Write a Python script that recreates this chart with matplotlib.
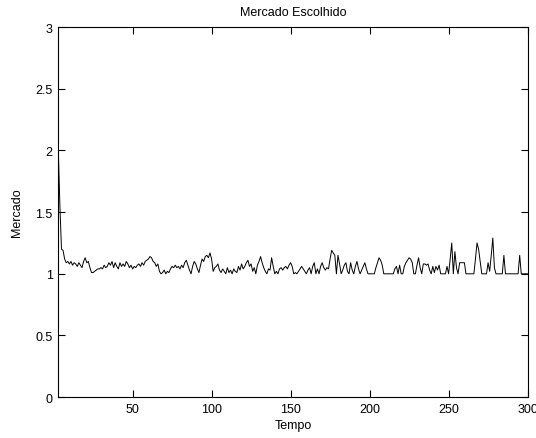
import matplotlib.pyplot as plt
import numpy as np

plt.rcParams['font.family'] = ['Liberation Sans', 'DejaVu Sans']

# tempo 3..300
tempo = np.arange(3, 301)
mercado = [
    2.0, 1.55, 1.2, 1.19, 1.12, 1.09, 1.1, 1.08, 1.1, 1.07,          # 3-12
    1.09, 1.08, 1.06, 1.09, 1.07, 1.05, 1.1, 1.13, 1.09, 1.1,        # 13-22
    1.05, 1.01, 1.01, 1.02, 1.03, 1.04, 1.04, 1.05, 1.04, 1.07,      # 23-32
    1.05, 1.06, 1.09, 1.07, 1.1, 1.05, 1.09, 1.06, 1.04, 1.09,       # 33-42
    1.06, 1.08, 1.06, 1.1, 1.08, 1.05, 1.07, 1.04, 1.06, 1.05,       # 43-52
    1.07, 1.08, 1.06, 1.09, 1.07, 1.1, 1.11, 1.12, 1.14, 1.13,       # 53-62
    1.1, 1.09, 1.06, 1.08, 1.02, 1.0, 1.01, 1.03, 1.0, 1.02,         # 63-72
    1.01, 1.04, 1.06, 1.05, 1.07, 1.05, 1.06, 1.04, 1.07, 1.05,      # 73-82
    1.09, 1.11, 1.07, 1.03, 1.0, 1.06, 1.1, 1.08, 1.04, 1.01,        # 83-92
    1.07, 1.12, 1.1, 1.14, 1.15, 1.13, 1.17, 1.12, 1.02, 1.05,       # 93-102
    1.06, 1.08, 1.03, 1.01, 1.04, 1.02, 1.0, 1.05, 1.01, 1.03,       # 103-112
    1.0, 1.04, 1.02, 1.01, 1.06, 1.03, 1.08, 1.04, 1.06, 1.09,       # 113-122
    1.11, 1.06, 1.08, 1.02, 1.05, 1.0, 1.07, 1.1, 1.14, 1.09,        # 123-132
    1.05, 1.02, 1.0, 1.04, 1.03, 1.13, 1.06, 1.0, 1.02, 1.0,         # 133-142
    1.04, 1.05, 1.03, 1.05, 1.06, 1.04, 1.07, 1.09, 1.06, 1.0,       # 143-152
    1.01, 1.0, 1.02, 1.04, 1.06, 1.04, 1.02, 1.0, 1.03, 1.05,        # 153-162
    1.0, 1.06, 1.09, 1.0, 1.04, 1.0, 1.06, 1.09, 1.05, 1.03,         # 163-172
    1.05, 1.04, 1.12, 1.19, 1.17, 1.15, 1.0, 1.15, 1.08, 1.0,        # 173-182
    1.03, 1.07, 1.09, 1.02, 1.0, 1.09, 1.03, 1.0, 1.06, 1.1,         # 183-192
    1.04, 1.0, 1.03, 1.06, 1.09, 1.04, 1.0, 1.0, 1.0, 1.0,           # 193-202
    1.0, 1.05, 1.09, 1.13, 1.11, 1.07, 1.0, 1.0, 1.0, 1.0,           # 203-212
    1.0, 1.0, 1.0, 1.04, 1.06, 1.0, 1.07, 1.0, 1.0, 1.06,            # 213-222
    1.09, 1.11, 1.13, 1.12, 1.09, 1.0, 1.0, 1.07, 1.13, 1.05,        # 223-232
    1.0, 1.08, 1.08, 1.07, 1.08, 1.03, 1.0, 1.06, 1.01, 1.06,        # 233-242
    1.03, 1.07, 1.0, 1.0, 1.0, 1.0, 1.06, 1.0, 1.12, 1.25,           # 243-252
    1.0, 1.18, 1.05, 1.0, 1.09, 1.09, 1.09, 1.09, 1.0, 1.0,          # 253-262
    1.0, 1.0, 1.0, 1.0, 1.12, 1.25, 1.2, 1.1, 1.0, 1.0,              # 263-272
    1.0, 1.0, 1.09, 1.02, 1.15, 1.29, 1.05, 1.0, 1.0, 1.0,           # 273-282
    1.0, 1.0, 1.15, 1.0, 1.0, 1.0, 1.0, 1.0, 1.0, 1.0,               # 283-292
    1.0, 1.0, 1.15, 1.0, 1.0, 1.0, 1.0, 1.0,                         # 293-300
]
x_ticks = [50, 100, 150, 200, 250, 300]
y_ticks = [0, 0.5, 1, 1.5, 2, 2.5, 3]
y_tick_labels = ['0', '0.5', '1', '1.5', '2', '2.5', '3']

fig = plt.figure(figsize=(5.36, 4.39), dpi=100)
ax = fig.add_axes([0.1088, 0.093, 0.8755, 0.843])
ax.plot(tempo, mercado, color='black', linewidth=0.7)

ax.set_xlim(3, 300)
ax.set_ylim(0, 3)
ax.set_xticks(x_ticks)
ax.set_xticklabels([str(t) for t in x_ticks])
ax.set_yticks(y_ticks)
ax.set_yticklabels(y_tick_labels)
ax.tick_params(direction='in', length=5, width=0.8, top=True, right=True,
               labelsize=9, pad=4)
for s in ax.spines.values():
    s.set_linewidth(0.8)

ax.set_title('Mercado Escolhido', fontsize=9, pad=9)
ax.set_xlabel('Tempo', fontsize=9, labelpad=3)
ax.set_ylabel('Mercado', fontsize=9, labelpad=9)

fig.savefig('out.png', dpi=100)
